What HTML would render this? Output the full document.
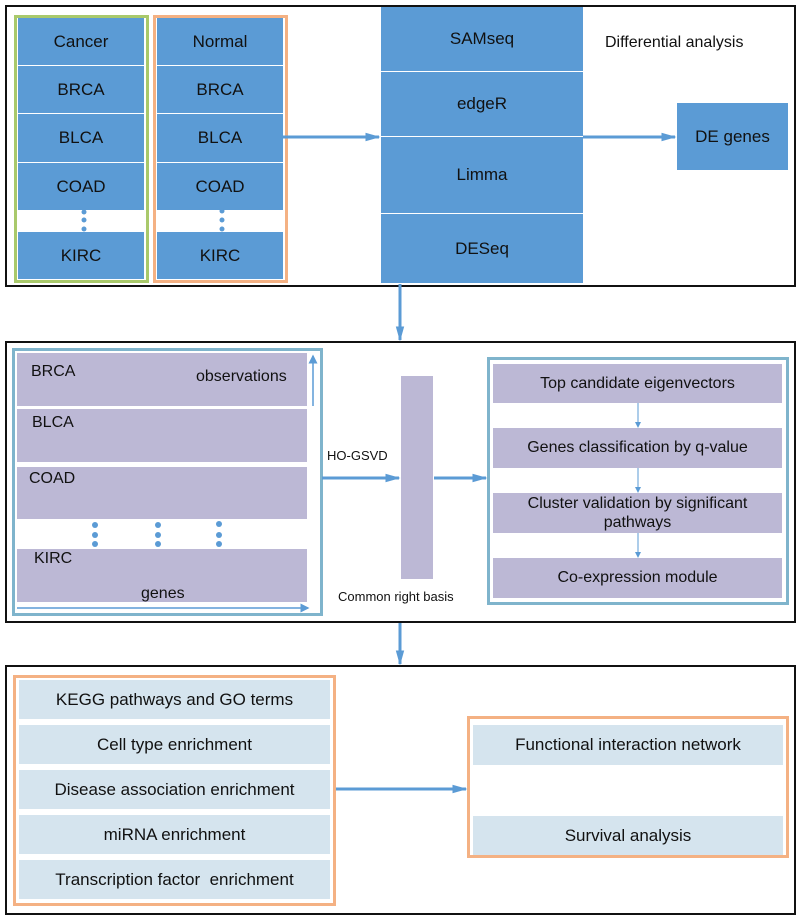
<!DOCTYPE html>
<html><head><meta charset="utf-8"><style>
body{margin:0;width:800px;height:919px;background:#fff;position:relative;overflow:hidden;font-family:"Liberation Sans",sans-serif;}
div{position:absolute;box-sizing:border-box;}
.c{display:flex;align-items:center;justify-content:center;text-align:center;color:#111;}
.db{background:#5B9BD5;font-size:17px;}
.pu{background:#BCB8D5;}
.lb{background:#D5E4EE;font-size:17px;}
.t{color:#111;white-space:nowrap;}
</style></head><body>
<!-- panel 1 -->
<div style="left:5px;top:5px;width:791px;height:282px;border:2px solid #111;"></div>
<div style="left:14px;top:15px;width:135px;height:268px;border:3px solid #A9C96B;"></div>
<div style="left:153px;top:15px;width:135px;height:268px;border:3px solid #F4B183;"></div>
<div class="c db" style="left:18px;top:18px;width:126px;height:47px;">Cancer</div>
<div class="c db" style="left:18px;top:66px;width:126px;height:47px;">BRCA</div>
<div class="c db" style="left:18px;top:114px;width:126px;height:48px;">BLCA</div>
<div class="c db" style="left:18px;top:163px;width:126px;height:47px;">COAD</div>
<div class="c db" style="left:18px;top:232px;width:126px;height:47px;">KIRC</div>
<div class="c db" style="left:157px;top:18px;width:126px;height:47px;">Normal</div>
<div class="c db" style="left:157px;top:66px;width:126px;height:47px;">BRCA</div>
<div class="c db" style="left:157px;top:114px;width:126px;height:48px;">BLCA</div>
<div class="c db" style="left:157px;top:163px;width:126px;height:47px;">COAD</div>
<div class="c db" style="left:157px;top:232px;width:126px;height:47px;">KIRC</div>
<div class="c db" style="left:381px;top:7px;width:202px;height:64px;">SAMseq</div>
<div class="c db" style="left:381px;top:72px;width:202px;height:64px;">edgeR</div>
<div class="c db" style="left:381px;top:137px;width:202px;height:76px;">Limma</div>
<div class="c db" style="left:381px;top:214px;width:202px;height:69px;">DESeq</div>
<div class="t" style="left:605px;top:34px;font-size:16px;">Differential analysis</div>
<div class="c db" style="left:677px;top:103px;width:111px;height:67px;font-size:17px;">DE genes</div>
<!-- panel 2 -->
<div style="left:5px;top:341px;width:791px;height:282px;border:2px solid #111;"></div>
<div style="left:12px;top:348px;width:311px;height:268px;border:3px solid #7FB4CC;"></div>
<div class="pu" style="left:17px;top:353px;width:290px;height:53px;"></div>
<div class="pu" style="left:17px;top:409px;width:290px;height:53px;"></div>
<div class="pu" style="left:17px;top:467px;width:290px;height:52px;"></div>
<div class="pu" style="left:17px;top:549px;width:290px;height:53px;"></div>
<div class="t" style="left:31px;top:363px;font-size:16px;">BRCA</div>
<div class="t" style="left:32px;top:414px;font-size:16px;">BLCA</div>
<div class="t" style="left:29px;top:470px;font-size:16px;">COAD</div>
<div class="t" style="left:34px;top:550px;font-size:16px;">KIRC</div>
<div class="t" style="left:196px;top:368px;font-size:16px;">observations</div>
<div class="t" style="left:141px;top:585px;font-size:16px;">genes</div>
<div class="t" style="left:327px;top:448px;font-size:13px;">HO-GSVD</div>
<div class="pu" style="left:401px;top:376px;width:32px;height:203px;"></div>
<div class="t" style="left:338px;top:589px;font-size:13px;">Common right basis</div>
<div style="left:487px;top:357px;width:302px;height:248px;border:3px solid #7FB4CC;"></div>
<div class="c pu" style="left:493px;top:364px;width:289px;height:39px;font-size:16px;">Top candidate eigenvectors</div>
<div class="c pu" style="left:493px;top:428px;width:289px;height:40px;font-size:16px;">Genes classification by q-value</div>
<div class="c pu" style="left:493px;top:493px;width:289px;height:40px;font-size:16px;line-height:19px;">Cluster validation by significant<br>pathways</div>
<div class="c pu" style="left:493px;top:558px;width:289px;height:40px;font-size:16px;">Co-expression module</div>
<!-- panel 3 -->
<div style="left:5px;top:665px;width:791px;height:250px;border:2px solid #111;"></div>
<div style="left:13px;top:675px;width:323px;height:231px;border:3px solid #F4B183;"></div>
<div class="c lb" style="left:19px;top:680px;width:311px;height:39px;">KEGG pathways and GO terms</div>
<div class="c lb" style="left:19px;top:725px;width:311px;height:39px;">Cell type enrichment</div>
<div class="c lb" style="left:19px;top:770px;width:311px;height:39px;">Disease association enrichment</div>
<div class="c lb" style="left:19px;top:815px;width:311px;height:39px;">miRNA enrichment</div>
<div class="c lb" style="left:19px;top:860px;width:311px;height:39px;">Transcription factor &nbsp;enrichment</div>
<div style="left:467px;top:716px;width:322px;height:142px;border:3px solid #F4B183;"></div>
<div class="c lb" style="left:473px;top:725px;width:310px;height:40px;">Functional interaction network</div>
<div class="c lb" style="left:473px;top:816px;width:310px;height:39px;">Survival analysis</div>
<svg width="800" height="919" style="position:absolute;left:0;top:0" xmlns="http://www.w3.org/2000/svg">
<defs>
<marker id="a" markerWidth="5" markerHeight="4" refX="4.5" refY="2" orient="auto" markerUnits="strokeWidth"><path d="M0,0.6 L5,2 L0,3.4z" fill="#5B9BD5"/></marker>
<marker id="s" markerWidth="6" markerHeight="6" refX="5" refY="3" orient="auto" markerUnits="strokeWidth"><path d="M0,0 L6,3 L0,6z" fill="#5B9BD5"/></marker>
</defs>
<g stroke="#5B9BD5" fill="none">
<line x1="283" y1="137" x2="379" y2="137" stroke-width="3" marker-end="url(#a)"/>
<line x1="583" y1="137" x2="675" y2="137" stroke-width="3" marker-end="url(#a)"/>
<line x1="400" y1="284" x2="400" y2="340" stroke-width="3" marker-end="url(#a)"/>
<line x1="322" y1="478" x2="399" y2="478" stroke-width="3" marker-end="url(#a)"/>
<line x1="434" y1="478" x2="486" y2="478" stroke-width="3" marker-end="url(#a)"/>
<line x1="400" y1="623" x2="400" y2="664" stroke-width="3" marker-end="url(#a)"/>
<line x1="336" y1="789" x2="466" y2="789" stroke-width="3" marker-end="url(#a)"/>
<line x1="313" y1="406" x2="313" y2="356" stroke-width="1.5" marker-end="url(#s)"/>
<line x1="17" y1="608" x2="308" y2="608" stroke-width="1.5" marker-end="url(#s)"/>
<line x1="638" y1="403" x2="638" y2="427" stroke-width="1" marker-end="url(#s)"/>
<line x1="638" y1="468" x2="638" y2="492" stroke-width="1" marker-end="url(#s)"/>
<line x1="638" y1="533" x2="638" y2="557" stroke-width="1" marker-end="url(#s)"/>
</g>
<g fill="#5B9BD5">
<circle cx="84" cy="212" r="2.5"/><circle cx="84" cy="220" r="2.5"/><circle cx="84" cy="229" r="2.5"/>
<circle cx="222" cy="211" r="2.5"/><circle cx="222" cy="220" r="2.5"/><circle cx="222" cy="229" r="2.5"/>
<circle cx="95" cy="525" r="3"/><circle cx="95" cy="535" r="3"/><circle cx="95" cy="544" r="3"/>
<circle cx="158" cy="525" r="3"/><circle cx="158" cy="535" r="3"/><circle cx="158" cy="544" r="3"/>
<circle cx="219" cy="524" r="3"/><circle cx="219" cy="535" r="3"/><circle cx="219" cy="544" r="3"/>
</g>
</svg>
</body></html>
